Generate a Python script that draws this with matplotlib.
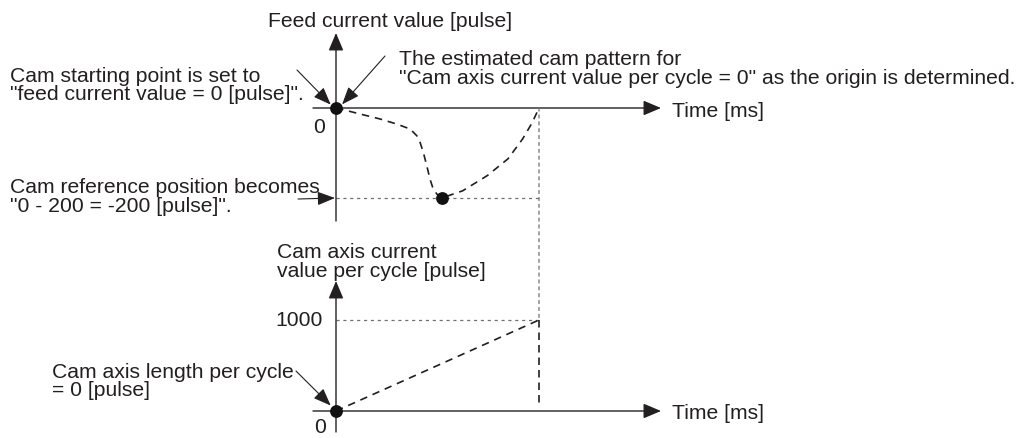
import matplotlib
matplotlib.use("Agg")
import matplotlib.pyplot as plt
from matplotlib.patches import ConnectionPatch

# ---------------- data ----------------
# top: feed current value [pulse] vs time (one cam cycle = 0..100)
feed_time = [0, 3.6, 11.8, 21.7, 29.9, 36.5, 39.8, 41.4, 43.0, 44.7, 46.3, 47.6, 49.6, 52.1,
             62.4, 74.6, 84.7, 91.9, 96.6, 100]
feed_value = [0, -3.8, -13.3, -24.4, -35.6, -46.7, -61.6, -76.2, -98.4, -128, -158, -176, -191, -200,
              -184, -150, -113, -69, -33, 0]
start_point = (0, 0)
ref_point = (52.1, -200)
ref_value = -200
cycle_end = 100

# bottom: cam axis current value per cycle [pulse]
cam_time = [0, 100]
cam_value = [0, 1000]
cam_max = 1000

# ---------------- layout ----------------
W, H = 1026, 439
fig = plt.figure(figsize=(W / 100, H / 100), dpi=100)
plt.rcParams['font.family'] = ['Liberation Sans', 'DejaVu Sans']
FS = 15.2
TXT = '#231f20'
AX = '#231f20'
GRAY = '#707070'
DOT = (0, (2.5, 3))

T0, TPX = 336, 2.03          # pixel x of t=0, pixels per time unit
F0, FPX = 109, 0.45          # top panel: pixel y of 0, pixels per pulse
C0, CPX = 412, 0.091         # bottom panel: pixel y of 0, pixels per pulse

xlim = ((0 - T0) / TPX, (W - T0) / TPX)
ax1 = fig.add_axes([0, 0, 1, 1])
ax1.set_xlim(*xlim)
ax1.set_ylim(-(H - F0) / FPX, F0 / FPX)
ax2 = fig.add_axes([0, 0, 1, 1])
ax2.set_xlim(*xlim)
ax2.set_ylim(-(H - C0) / CPX, C0 / CPX)
for a in (ax1, ax2):
    a.axis('off')
    a.patch.set_alpha(0)

def fp(x, y):
    """figure pixel coordinates from top-left pixel position"""
    return (x, H - y)

def arrow_axis(ax, p0, p1):
    ax.annotate('', xy=p1, xytext=p0, xycoords='data', textcoords='data',
                arrowprops=dict(arrowstyle='-|>,head_length=0.9,head_width=0.38',
                                color=AX, lw=1.0, shrinkA=0, shrinkB=0, mutation_scale=12))

# axes of top panel
t_left = (313 - T0) / TPX
t_tip = (661 - T0) / TPX
arrow_axis(ax1, (t_left, 0), (t_tip, 0))
arrow_axis(ax1, (0, -(222 - F0) / FPX), (0, (F0 - 34) / FPX))
# axes of bottom panel
arrow_axis(ax2, (t_left, 0), (t_tip, 0))
arrow_axis(ax2, (0, -(433 - C0) / CPX), (0, (C0 - 282) / CPX))

# reference dotted lines
ax1.plot([0, cycle_end], [ref_value, ref_value], color=GRAY, lw=0.9, ls=DOT)
ax2.plot([0, cycle_end], [cam_max, cam_max], color=GRAY, lw=0.9, ls=DOT)
con = ConnectionPatch(xyA=(cycle_end, 0), coordsA=ax1.transData,
                      xyB=(cycle_end, cam_max), coordsB=ax2.transData,
                      color=GRAY, lw=0.9, ls=DOT)
fig.add_artist(con)
ax2.plot([cycle_end, cycle_end], [cam_max, (C0 - 407) / CPX], color='#231f20', lw=1.2, ls=(0, (4.5, 3)))

# curves
ax1.plot(feed_time, feed_value, color='#231f20', lw=1.2, ls=(0, (4.5, 3.5)))
ax2.plot(cam_time, cam_value, color='#231f20', lw=1.2, ls=(0, (4.5, 3.5)))

# points
ax1.plot(*start_point, 'o', color='#111', ms=8.2, zorder=5)
ax1.plot(*ref_point, 'o', color='#111', ms=8.2, zorder=5)
ax2.plot(0, 0, 'o', color='#111', ms=8.2, zorder=5)

# ---------------- texts ----------------
def T(x, y, s, ha='left', va='baseline'):
    fig.text(x / W, 1 - y / H, s, fontsize=FS, color=TXT, ha=ha, va=va)

T(268, 27, 'Feed current value [pulse]')
T(10, 82, 'Cam starting point is set to')
T(10, 100, '"feed current value = 0 [pulse]".')
T(399, 65, 'The estimated cam pattern for')
T(399, 84, '"Cam axis current value per cycle = 0" as the origin is determined.')
T(672, 117, 'Time [ms]')
T(319, 128, '0', ha='center', va='center')
T(10, 193, 'Cam reference position becomes')
T(10, 212, '"0 - 200 = -200 [pulse]".')
T(277, 258, 'Cam axis current')
T(277, 277, 'value per cycle [pulse]')
T(323, 320, '1000', ha='right', va='center')
T(52, 378, 'Cam axis length per cycle')
T(52, 396, '= 0 [pulse]')
T(320, 428, '0', ha='center', va='center')
T(672, 419, 'Time [ms]')

# annotation arrows
ap = dict(arrowstyle='-|>,head_length=0.9,head_width=0.35', color=AX, lw=0.8,
          shrinkA=0, shrinkB=0, mutation_scale=12)
ax1.annotate('', xy=(-2.6, 7.5), xycoords='data', xytext=fp(297, 71),
             textcoords='figure pixels', arrowprops=ap)
ax1.annotate('', xy=(3.0, 8.0), xycoords='data', xytext=fp(385, 57),
             textcoords='figure pixels', arrowprops=ap)
ax1.annotate('', xy=(-0.5, ref_value), xycoords='data', xytext=fp(298, 200),
             textcoords='figure pixels', arrowprops=ap)
ax2.annotate('', xy=(-2.6, 60), xycoords='data', xytext=fp(296, 372),
             textcoords='figure pixels', arrowprops=ap)

fig.savefig('out.png', dpi=100, facecolor='white')
